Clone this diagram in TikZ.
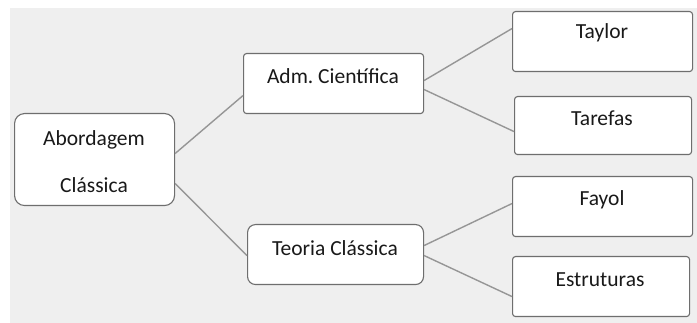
\documentclass[tikz,border=0pt]{standalone}
\usepackage{fontspec}
\setmainfont{Carlito}
\frenchspacing
\definecolor{bggray}{RGB}{239,239,239}
\definecolor{boxline}{RGB}{110,110,110}
\definecolor{conn}{RGB}{150,150,150}
\begin{document}
\begin{tikzpicture}[x=1pt,y=-1pt,
  box/.style={draw=boxline,line width=1.1pt,fill=white,anchor=north west,inner sep=0pt},
  lbl/.style={font=\fontsize{21.5}{26}\selectfont,text=black!90},
  link/.style={draw=conn,line width=1.4pt}]
\useasboundingbox (0,0) rectangle (697,323);
\fill[bggray] (10,8) rectangle (697,323);
% boxes
\node[box,rounded corners=10pt,minimum width=160pt,minimum height=92pt] (ab) at (14,113) {};
\node[box,rounded corners=3pt,minimum width=180pt,minimum height=60pt] (adm) at (243,53) {};
\node[box,rounded corners=8pt,minimum width=176pt,minimum height=60pt] (teo) at (247,224) {};
\node[box,rounded corners=3pt,minimum width=180pt,minimum height=60pt] (tay) at (512,11) {};
\node[box,rounded corners=3pt,minimum width=177pt,minimum height=58pt] (tar) at (514,96) {};
\node[box,rounded corners=3pt,minimum width=180pt,minimum height=60pt] (fay) at (512,176) {};
\node[box,rounded corners=3pt,minimum width=177pt,minimum height=60pt] (est) at (512,256) {};
% labels
\node[lbl] (tab1) at (94,140) {Abordagem};
\node[lbl] (tab2) at (94,185) {Clássica};
\node[lbl] (tadm) at (333,76) {Adm. Científica};
\node[lbl] (tteo) at (335,248) {Teoria Clássica};
\node[lbl] (ttay) at (602,33) {Taylor};
\node[lbl] (ttar) at (602,118) {Tarefas};
\node[lbl] (tfay) at (602,200) {Fayol};
\node[lbl] (test) at (600,280) {Estruturas};
% connectors
\draw[link] ([yshift=6pt]ab.east) -- ([yshift=-12pt]adm.west);
\draw[link] ([yshift=-24pt]ab.east) -- ([yshift=-1pt]teo.west);
\draw[link] ([yshift=3pt]adm.east) -- ([yshift=13pt]tay.west);
\draw[link] ([yshift=-6pt]adm.east) -- ([yshift=-6pt]tar.west);
\draw[link] ([yshift=9pt]teo.east) -- ([yshift=3pt]fay.west);
\draw[link] ([yshift=-1pt]teo.east) -- ([yshift=-10pt]est.west);
\end{tikzpicture}
\end{document}
